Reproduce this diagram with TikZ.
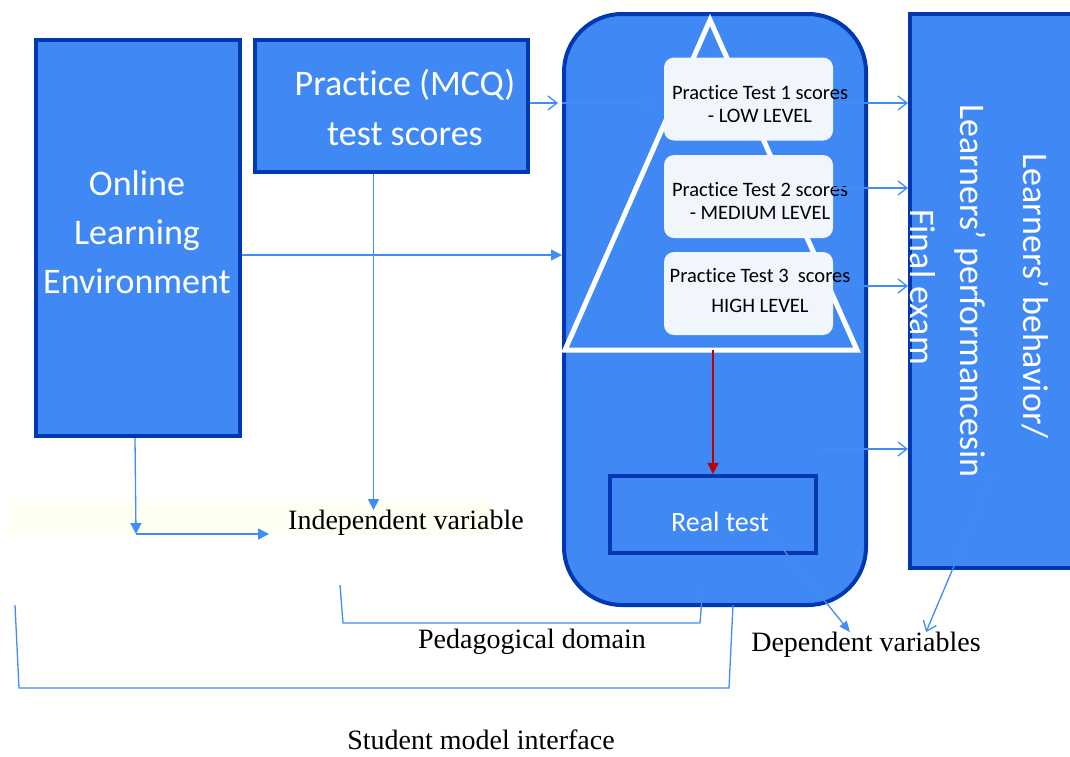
\documentclass[tikz,border=0pt]{standalone}
\usepackage{fontspec}
\setmainfont{Liberation Serif}
\setsansfont{Carlito}[Ligatures=NoCommon]
\usetikzlibrary{arrows.meta}
\definecolor{boxblue}{RGB}{64, 137, 245}
\definecolor{edgeblue}{RGB}{0, 56, 178}
\definecolor{paleblue}{RGB}{240, 246, 252}
\definecolor{wireblue}{RGB}{66, 140, 245}
\definecolor{darkred}{RGB}{192, 0, 0}
\definecolor{cream}{RGB}{253, 255, 240}

\begin{document}
\begin{tikzpicture}[x=1pt, y=-1pt,
  bluebox/.style={draw=edgeblue, line width=4pt, fill=boxblue, inner sep=0pt},
  boxtext/.style={text=white, font=\sffamily\fontsize{36}{49}\selectfont, align=center, inner sep=0pt},
  testbox/.style={fill=paleblue, rounded corners=10pt, inner sep=0pt, minimum width=169pt, minimum height=83pt},
  testtext/.style={font=\sffamily\fontsize{20.5}{23}\selectfont, align=center, inner sep=0pt},
  plain/.style={font=\fontsize{28}{30}\selectfont, inner sep=0pt},
  wire/.style={draw=wireblue, line width=1.3pt},
  openarrow/.style={wire, -{Straight Barb[length=9pt, width=14pt]}},
  fillarrow/.style={wire, -{Triangle[length=11pt, width=11pt]}},
]
  \useasboundingbox (0, 0) rectangle (1070, 756);

  \fill[cream] (10, 502) rectangle (493, 535);

  % boxes
  \node[bluebox, minimum width=204pt, minimum height=396pt] (ole) at (138, 238) {};
  \node[boxtext] (oletxt) at (137, 232) {Online\\Learning\\Environment};

  \node[bluebox, minimum width=273pt, minimum height=132pt] (mcq) at (391.5, 106) {};
  \node[boxtext, font=\sffamily\fontsize{36}{50}\selectfont] (mcqtxt) at (405, 107) {Practice (MCQ)\\test scores};

  \node[bluebox, rounded corners=58pt, minimum width=302pt, minimum height=591pt] (domain) at (715, 309.5) {};

  \node[bluebox, minimum width=180pt, minimum height=554pt] (outcome) at (1000, 291) {};
  \node[boxtext, rotate=-90] (beh) at (1035, 296) {Learners’ behavior/};
  \node[boxtext, rotate=-90] (perf) at (970, 291) {Learners’ performancesin};
  \node[boxtext, rotate=-90] (fin) at (923, 287) {Final exam};

  % pyramid of practice tests
  \coordinate (base) at (711, 350);
  \draw[white, line width=5pt] (710, 20) -- (857, 350) -- (565, 350) -- cycle;

  \node[testbox] (t1) at (748.5, 99) {};
  \node[testtext] (t1txt) at (760, 104) {Practice Test 1 scores\\- LOW LEVEL};
  \node[testbox] (t2) at (748.5, 196.5) {};
  \node[testtext] (t2txt) at (760, 201) {Practice Test 2 scores\\- MEDIUM LEVEL};
  \node[testbox] (t3) at (748.5, 293.5) {};
  \node[testtext] (t3txt) at (760, 291) {Practice Test 3~ scores\\[7pt]HIGH LEVEL};

  \node[bluebox, minimum width=206pt, minimum height=77pt] (real) at (713, 514.5) {};
  \node[boxtext, font=\sffamily\fontsize{28}{30}\selectfont] (rt) at (720, 522) {Real test};

  % labels
  \node[plain] (iv) at (406, 523) {Independent variable};
  \node[plain] (dv) at (866, 645) {Dependent variables};
  \node[plain] (pd) at (532, 642) {Pedagogical domain};
  \node[plain] (smi) at (481, 740) {Student model interface};

  % arrows
  \draw[openarrow, shorten >=4pt] ([yshift=3pt]mcq.east) -- ([yshift=3pt]mcq.east -| domain.west);
  \draw[openarrow, shorten >=12pt] ([yshift=3pt]mcq.east -| domain.west) -- ([yshift=3pt]mcq.east -| t1.west);
  \draw[fillarrow] ([yshift=-17pt]ole.east) -- ([yshift=-17pt]ole.east -| domain.west);

  \draw[openarrow] ([yshift=-4pt]t1.east) -- ([yshift=-4pt]t1.east -| outcome.west);
  \draw[openarrow] ([yshift=8.5pt]t2.east) -- ([yshift=8.5pt]t2.east -| outcome.west);
  \draw[openarrow] ([yshift=7.5pt]t3.east) -- ([yshift=7.5pt]t3.east -| outcome.west);
  \coordinate (spare) at (818, 449);
  \draw[openarrow] (spare) -- (spare -| outcome.west);

  \draw[darkred, line width=1.3pt, -{Triangle[length=11pt, width=11pt]}] (real.north |- base) -- (real.north);

  \coordinate (elbow) at (136, 534);
  \draw[fillarrow] ([xshift=-3pt]ole.south) -- (elbow);
  \draw[fillarrow, shorten >=19pt] (elbow) -- (elbow -| iv.west);
  \draw[fillarrow] ([xshift=-18pt]mcq.south) -- ([xshift=-18pt]mcq.south |- iv.north);

  \draw[wire, -{Triangle[length=11pt, width=9pt]}] (rt.south east) -- ([xshift=-16pt]dv.north);
  \coordinate (perfend) at (992, 476);
  \draw[openarrow] (perfend) -- ([xshift=60pt]dv.north);

  % brackets
  \draw[wire] (340, 585) -- (343, 623) -- (700, 623) -- (703, 585);
  \draw[wire] (15, 605) -- (19, 688) -- (729, 688) -- (733, 605);
\end{tikzpicture}
\end{document}
